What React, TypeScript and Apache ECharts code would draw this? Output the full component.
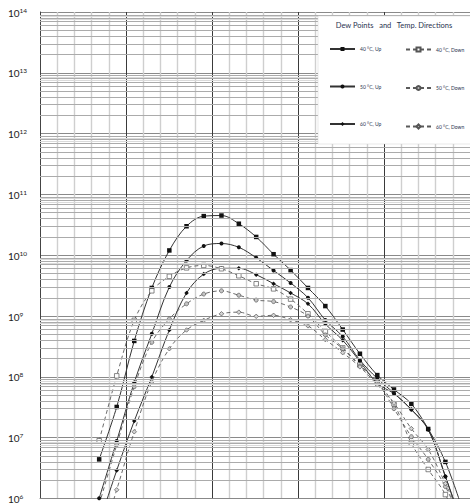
import React, { useEffect, useRef } from "react";
import * as echarts from "echarts";

const X_POS = [3.44, 4.46, 5.48, 6.5, 7.52, 8.52, 9.52, 10.55, 11.56, 12.57, 13.58, 14.57, 15.58, 16.59, 17.6, 18.6, 19.61, 20.58, 21.59, 22.57, 23.57, 24.62];

const UP_40 = [4.4e6, 3.2e7, 3.9e8, 2.9e9, 1.2e10, 3.0e10, 4.4e10, 4.5e10, 3.3e10, 2.0e10, 1.04e10, 5.7e9, 2.9e9, 1.46e9, 6.0e8, 2.4e8, 1.07e8, 6.2e7, 3.6e7, 1.39e7, 4.0e6, 5.9e5];
const UP_50 = [1.01e6, 8.8e6, 8.1e7, 5.1e8, 3.0e9, 8.2e9, 1.42e10, 1.56e10, 1.35e10, 9.1e9, 5.6e9, 3.5e9, 2.0e9, 8.6e8, 4.6e8, 1.88e8, 9.4e7, 5.4e7, 2.9e7, 1.38e7, 2.3e6, 3.2e5];
const UP_60 = [3.9e5, 2.9e6, 1.88e7, 1.0e8, 5.9e8, 2.4e9, 4.9e9, 6.1e9, 6.1e9, 4.8e9, 3.4e9, 2.4e9, 1.59e9, 7.4e8, 4.0e8, 1.79e8, 7.8e7, 5.3e7, 2.9e7, 1.35e7, 2.3e6, 3.2e5];
const DOWN_40 = [8.9e6, 1.04e8, 8.5e8, 2.6e9, 4.5e9, 6.2e9, 6.8e9, 6.0e9, 4.6e9, 3.4e9, 2.8e9, 1.9e9, 1.09e9, 5.6e8, 3.0e8, 1.57e8, 8.0e7, 3.6e7, 8.1e6, 3.0e6, 1.16e6, 2.4e5];
const DOWN_50 = [8.0e5, 7.6e6, 6.9e7, 3.7e8, 9.0e8, 1.59e9, 2.3e9, 2.6e9, 2.2e9, 1.83e9, 1.73e9, 1.41e9, 1.0e9, 4.9e8, 2.9e8, 1.51e8, 8.3e7, 3.0e7, 1.04e7, 4.4e6, 1.57e6, 3.5e5];
const DOWN_60 = [1.6e5, 1.39e6, 1.25e7, 8.3e7, 2.9e8, 5.9e8, 8.5e8, 1.09e9, 1.16e9, 9.9e8, 1.03e9, 8.7e8, 6.9e8, 4.1e8, 2.5e8, 1.46e8, 7.4e7, 3.7e7, 1.41e7, 6.4e6, 1.76e6, 4.2e5];

const SERIES_NAMES = ["40 °C, Up", "50 °C, Up", "60 °C, Up", "40 °C, Down", "50 °C, Down", "60 °C, Down"];
const TITLE = "Dew Points   and   Temp. Directions";

const DECADES = [6, 7, 8, 9, 10, 11, 12, 13];
const MINOR_MULT = [2, 3, 4, 5, 6, 7, 8, 9];
const HALF_MULT = [7.5, 8.5];

const FONT = "Lato, 'Open Sans', sans-serif";

function pts(arr: number[]) {
  return X_POS.map((x, i) => [x, arr[i]]);
}

export default function App() {
  const ref = useRef<HTMLDivElement>(null);
  useEffect(() => {
    const chart = echarts.init(ref.current!, undefined, { renderer: "svg" });

    const gridLines: any[] = [];
    DECADES.forEach((d) => {
      HALF_MULT.forEach((m) => {
        gridLines.push({ yAxis: m * Math.pow(10, d), lineStyle: { color: "#dadada", width: 1, type: "solid" } });
      });
    });
    DECADES.forEach((d) => {
      MINOR_MULT.forEach((m) => {
        gridLines.push({ yAxis: m * Math.pow(10, d), lineStyle: { color: "#ababab", width: 1, type: "solid" } });
      });
    });

    const upStyle = (symbol: string, size: number) => ({
      type: "line",
      smooth: 0.35,
      symbol,
      symbolSize: size,
      showSymbol: true,
      z: 3,
      lineStyle: { color: "#333", width: 1, type: "solid" },
      itemStyle: { color: "#111", borderColor: "#111", borderWidth: 0 },
    });
    const downStyle = (symbol: string, size: number, fill: string) => ({
      type: "line",
      smooth: 0.35,
      symbol,
      symbolSize: size,
      showSymbol: true,
      z: 3,
      lineStyle: { color: "#5a5a5a", width: 0.9, type: [4, 3] },
      itemStyle: { color: fill, borderColor: "#555", borderWidth: 0.7 },
    });

    const legendBase = {
      orient: "vertical",
      top: 46.5,
      padding: 0,
      itemWidth: 25,
      itemHeight: 5,
      itemGap: 32.5,
      selectedMode: false,
      z: 20,
      textStyle: { fontSize: 5, fontFamily: FONT, color: "#2a3450" },
    };

    const option: any = {
      animation: false,
      backgroundColor: "#ffffff",
      grid: { left: 40, top: 12, width: 433, height: 490, containLabel: false },
      xAxis: {
        type: "value",
        min: 0,
        max: 25,
        interval: 5,
        axisLabel: { show: false },
        axisTick: { show: false },
        axisLine: { show: true, lineStyle: { color: "#888", width: 1 } },
        splitLine: { show: true, lineStyle: { color: "#3a3a3a", width: 1 } },
        minorTick: { show: false, splitNumber: 5 },
        minorSplitLine: { show: true, lineStyle: { color: "#cfcfcf", width: 1.4 } },
      },
      yAxis: {
        type: "log",
        logBase: 10,
        min: 1e6,
        max: 1e14,
        axisLine: { show: true, lineStyle: { color: "#444", width: 1 } },
        axisTick: { show: false },
        splitLine: { show: true, lineStyle: { color: "#8a8a8a", width: 1 } },
        axisLabel: {
          show: true,
          align: "left",
          margin: 32,
          formatter: (v: number) => "{b|10}{s|" + Math.round(Math.log10(v)) + "}",
          rich: {
            b: { fontSize: 10, fontFamily: FONT, color: "#222", verticalAlign: "bottom" },
            s: { fontSize: 6.5, fontFamily: FONT, color: "#222", verticalAlign: "bottom", padding: [0, 0, 4, 0] },
          },
        },
      },
      legend: [
        { ...legendBase, data: SERIES_NAMES.slice(0, 3), left: 329 },
        { ...legendBase, data: SERIES_NAMES.slice(3), left: 405 },
      ],
      graphic: [
        {
          type: "rect",
          z: 10,
          shape: { x: 318, y: 16, width: 160, height: 128 },
          style: { fill: "#ffffff", stroke: "#d0d0d0", lineWidth: 0.5 },
        },
        {
          type: "text",
          z: 11,
          x: 394,
          y: 25,
          style: {
            text: TITLE,
            fontSize: 7.5,
            fontFamily: FONT,
            fill: "#2a3450",
            textAlign: "center",
            textVerticalAlign: "middle",
            align: "center",
            verticalAlign: "middle",
          },
        },
      ],
      series: [
        {
          type: "line",
          name: "grid",
          data: [],
          z: 1,
          silent: true,
          markLine: {
            silent: true,
            symbol: ["none", "none"],
            label: { show: false },
            animation: false,
            data: gridLines,
          },
        },
        { ...upStyle("rect", 4.5), name: SERIES_NAMES[0], data: pts(UP_40) },
        { ...upStyle("circle", 4), name: SERIES_NAMES[1], data: pts(UP_50) },
        { ...upStyle("diamond", 4.5), name: SERIES_NAMES[2], data: pts(UP_60) },
        { ...downStyle("rect", 4.5, "#ffffff"), name: SERIES_NAMES[3], data: pts(DOWN_40) },
        { ...downStyle("circle", 4, "#c4c4c4"), name: SERIES_NAMES[4], data: pts(DOWN_50) },
        { ...downStyle("diamond", 4.5, "#d4d4d4"), name: SERIES_NAMES[5], data: pts(DOWN_60) },
      ],
    };

    chart.setOption(option);
    return () => chart.dispose();
  }, []);

  return <div ref={ref} style={{ position: "absolute", left: 0, top: 0, width: 470, height: 504 }} />;
}
